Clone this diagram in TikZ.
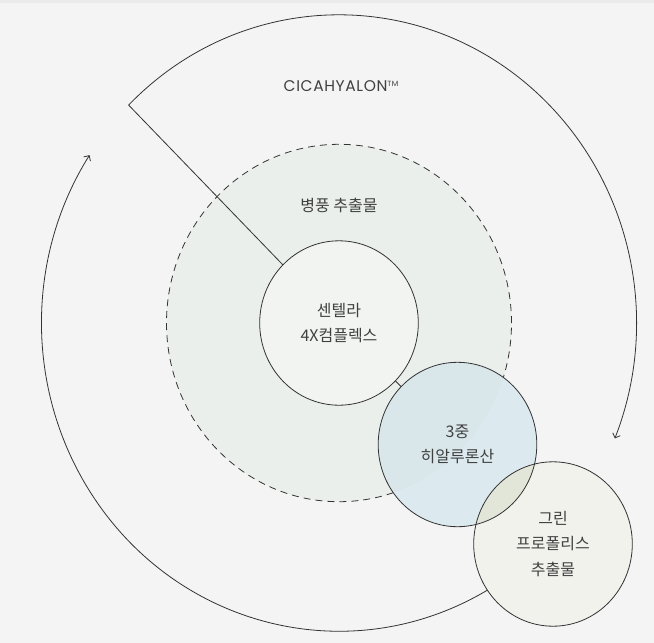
\documentclass[tikz,border=0pt]{standalone}
\usepackage{fontspec}
\usetikzlibrary{shapes.geometric,arrows.meta,calc}
\newfontfamily\kr{Noto Sans CJK KR}
\newfontfamily\lat[LetterSpace=4]{Poppins}
\definecolor{bg}{HTML}{F4F4F4}
\definecolor{topband}{HTML}{EAEAEA}
\definecolor{ink}{HTML}{333333}
\definecolor{txt}{HTML}{404040}
\definecolor{dashfill}{HTML}{EBEFEB}
\definecolor{cenfill}{HTML}{F1F4F1}
\definecolor{blueout}{HTML}{DCE9EF}
\definecolor{bluein}{HTML}{D9E6EA}
\definecolor{grnfill}{HTML}{F2F2EC}
\definecolor{olivefill}{HTML}{E2E6D8}
\begin{document}
\begin{tikzpicture}[x=1pt,y=-1pt,
  line width=0.8pt,
  ringline/.style={draw=ink, line width=0.8pt},
  arrowtip/.style={-{Straight Barb[length=4pt,width=8pt]}},
  krtext/.style={text=txt, align=center, font=\kr\fontsize{16}{25.5}\selectfont},
  bubble/.style={ellipse, minimum width=158.6pt, minimum height=164.4pt,
    inner sep=0pt, outer sep=0pt, krtext},
  dashring/.style={ellipse, minimum width=345pt, minimum height=357.4pt,
    inner sep=0pt, outer sep=0pt, draw=ink, line width=0.8pt,
    dash pattern=on 7pt off 5pt, fill=dashfill}
]
% background
\fill[bg] (0,0) rectangle (654,643);
\fill[topband] (0,0) rectangle (654,3);
\useasboundingbox (0,0) rectangle (654,643);

\coordinate (O) at (339,323);

% dashed ring
\node[dashring] (dash) at (O) {};
\node[krtext] (dashlabel) at (339,205) {병풍 추출물};

% outer arcs
\coordinate (corner) at ($(O)+({297.5*cos(-135)},{308.2*sin(-135)})$);
\coordinate (arcstart) at ($(O)+({297.5*cos(60)},{308.2*sin(60)})$);
\draw[ringline, arrowtip] (corner) arc[start angle=-135, end angle=22, x radius=297.5, y radius=308.2];
\draw[ringline, arrowtip] (arcstart) arc[start angle=60, end angle=213, x radius=297.5, y radius=308.2];

% title
\node[text=txt, font=\lat\fontsize{15.5}{16}\selectfont] (title) at (341,86)
  {CICAHYALON\raisebox{0.55ex}{\fontsize{7.5}{8}\selectfont TM}};

% inner circle
\node[bubble, draw=ink, fill=cenfill] (cen) at (O) {센텔라\\4X컴플렉스};
\draw[ringline] (corner) -- (cen);

% hyaluronic circle (opaque base, darker where it lies over the dashed ring)
\fill[blueout] (457.5,444.5) ellipse[x radius=79.3, y radius=82.2];
\begin{scope}
  \clip (O) ellipse[x radius=172.5, y radius=178.7];
  \fill[bluein] (457.5,444.5) ellipse[x radius=79.3, y radius=82.2];
\end{scope}
\node[bubble] (hya) at (457.5,444.5) {3중\\히알루론산};
\draw[ringline] (cen) -- (hya);

% propolis circle
\node[bubble, fill=grnfill] (grn) at (553,544) {그린\\프로폴리스\\추출물};

% overlap of the two
\begin{scope}
  \clip (hya.center) ellipse[x radius=79.3, y radius=82.2];
  \fill[olivefill] (grn.center) ellipse[x radius=79.3, y radius=82.2];
\end{scope}

% outlines
\draw[ringline] (hya.center) ellipse[x radius=79.3, y radius=82.2];
\draw[ringline] (grn.center) ellipse[x radius=79.3, y radius=82.2];
\end{tikzpicture}
\end{document}
